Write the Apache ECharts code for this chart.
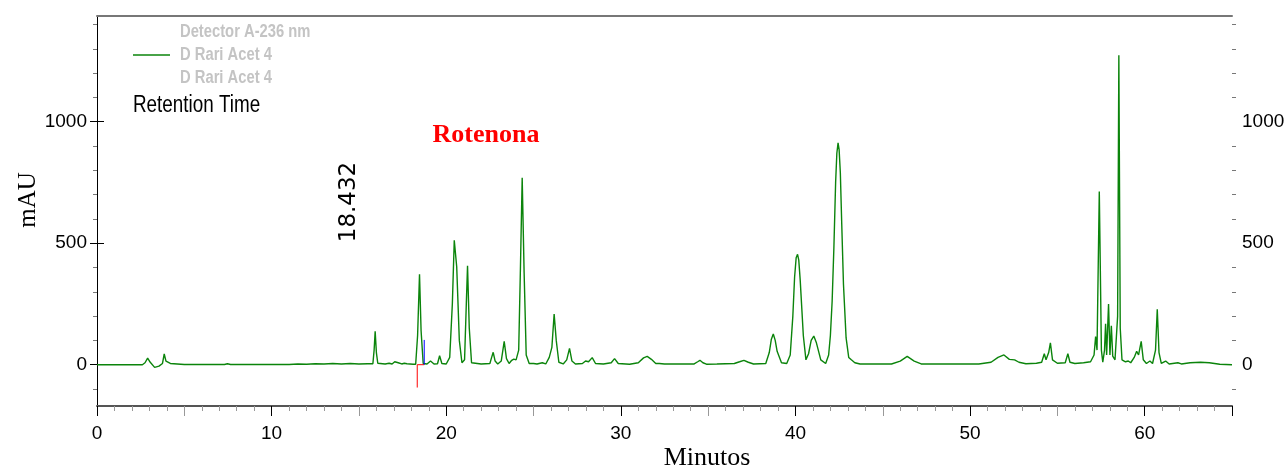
<!DOCTYPE html>
<html>
<head>
<meta charset="utf-8">
<script src="https://cdn.jsdelivr.net/npm/echarts@6/dist/echarts.min.js"></script>
<style>
  html, body { margin: 0; padding: 0; background: #fff; }
  #chart { width: 1284px; height: 468px; }
</style>
</head>
<body>
<div id="chart"></div>
<script>
// chromatogram trace, [minutes, mAU]
const traceEarly = [
    [0, 0], [2.6, 0], [2.75, 8], [2.9, 27], [3.05, 10], [3.3, -11], [3.55, -6], [3.75, 5],
    [3.85, 44], [3.95, 15], [4.2, 5], [5, 1], [7.3, 1], [7.47, 4], [7.65, 1], [11, 1],
    [11.5, 3], [12, 2], [12.5, 4], [13, 3], [13.5, 5], [14, 3], [14.5, 5], [15, 3],
    [15.5, 4], [15.8, 4], [15.87, 60], [15.93, 137], [16.0, 50], [16.08, 6], [16.5, 3],
    [16.73, 6], [16.9, 3], [17.05, 12], [17.15, 19], [17.25, 8], [17.45, 3], [17.6, 6],
    [17.75, 4], [18.1, 2], [18.25, 2], [18.36, 120], [18.47, 372], [18.56, 140], [18.68, 5]
];
const traceMid = [
    [18.9, 3], [19.1, 15], [19.3, 3], [19.5, 4], [19.62, 37], [19.75, 5], [20.0, 3],
    [20.2, 30], [20.35, 250], [20.46, 512], [20.6, 403], [20.75, 100], [20.9, 8],
    [21.05, 20], [21.15, 250], [21.22, 407], [21.32, 150], [21.45, 8], [22.0, 3],
    [22.5, 5], [22.6, 30], [22.69, 51], [22.8, 15], [22.95, 3], [23.15, 15], [23.32, 96],
    [23.45, 25], [23.6, 5], [23.75, 18], [23.87, 23], [24.0, 20], [24.15, 60], [24.25, 400],
    [24.35, 769], [24.46, 380], [24.58, 40], [24.75, 5], [25.0, 5], [25.2, 3], [25.5, 8],
    [25.7, 3], [25.9, 30], [26.05, 71], [26.18, 208], [26.3, 100], [26.45, 10], [26.7, 3],
    [26.9, 20], [27.06, 67], [27.2, 15], [27.4, 3], [27.8, 5], [27.98, 15], [28.15, 12],
    [28.36, 29], [28.55, 5], [29, 3], [29.45, 8], [29.64, 25], [29.85, 5], [30.5, 2]
];
const traceLate = [
    [31.0, 8], [31.3, 28], [31.51, 34], [31.75, 22], [32.0, 5], [32.2, 5], [32.31, 8],
    [32.5, 3], [34.2, 3], [34.4, 12], [34.53, 18], [34.7, 8], [34.9, 2], [35.5, 3],
    [36, 4], [36.5, 5], [36.8, 12], [37.05, 18], [37.3, 10], [37.6, 3], [38.3, 5],
    [38.5, 50], [38.62, 105], [38.73, 126], [38.84, 100], [38.95, 55], [39.2, 8], [39.5, 5],
    [39.7, 40], [39.85, 200], [39.95, 360], [40.04, 440], [40.12, 454], [40.19, 430],
    [40.27, 350], [40.45, 120], [40.6, 20], [40.75, 45], [40.9, 100], [41.05, 118],
    [41.2, 90], [41.45, 20], [41.73, 5], [41.9, 40], [42.0, 120], [42.1, 260], [42.2, 480],
    [42.3, 750], [42.37, 870], [42.44, 913], [42.5, 885], [42.57, 790], [42.65, 580],
    [42.75, 330], [42.9, 110], [43.05, 30], [43.2, 20], [43.4, 8], [43.7, 3], [45.5, 3],
    [46.0, 15], [46.4, 34], [46.8, 15], [47.2, 3], [50.5, 3], [51.2, 10], [51.6, 30],
    [51.94, 40], [52.25, 22], [52.55, 20], [52.8, 10], [53.2, 4], [53.8, 6], [54.1, 10],
    [54.25, 45], [54.35, 20], [54.5, 50], [54.6, 90], [54.72, 20], [55.0, 6], [55.45, 8],
    [55.6, 45], [55.72, 10], [56.0, 5], [56.5, 8], [56.9, 12], [57.1, 40], [57.19, 116],
    [57.27, 60], [57.4, 713], [57.52, 60], [57.6, 10], [57.7, 60], [57.76, 168], [57.82, 40],
    [57.93, 250], [58.01, 40], [58.09, 160], [58.17, 35], [58.3, 20], [58.45, 200],
    [58.52, 1273], [58.6, 150], [58.7, 20], [58.9, 12], [59.06, 15], [59.2, 8], [59.4, 30],
    [59.54, 55], [59.65, 40], [59.8, 96], [59.92, 20], [60.1, 5], [60.3, 15], [60.45, 5],
    [60.62, 60], [60.72, 228], [60.82, 50], [60.95, 5], [61.2, 15], [61.4, 3], [61.9, 8],
    [62.1, 3], [62.6, 8], [63.2, 10], [63.7, 8], [64.3, 2], [65, 0]
];

// integration marks around the 18.432 peak
const startMark = [[18.34, -94], [18.34, 0], [18.74, 0]];
const endMark = [[18.74, 0], [18.74, 102]];

const majorY = [0, 500, 1000];
const minorY = [-100, 100, 200, 300, 400, 600, 700, 800, 900, 1100, 1200, 1300, 1400];
const yMin = -170;
const yMax = 1435;

const labelFont = "'Liberation Sans', Arial, sans-serif";
const narrow = 0.82; // the source uses a condensed face

const chart = echarts.init(document.getElementById("chart"));

const yAxisBase = (position, withLabels) => ({
    type: "value",
    position: position,
    min: yMin,
    max: yMax,
    splitLine: { show: false },
    axisLine: { show: withLabels, lineStyle: { color: "#000", width: 1 } },
    axisTick: {
        show: true,
        length: withLabels ? 7 : 4,
        customValues: withLabels ? majorY : minorY,
        lineStyle: { color: withLabels ? "#000" : "#777" }
    },
    axisLabel: {
        show: withLabels,
        customValues: majorY,
        margin: 10,
        color: "#000",
        fontFamily: labelFont,
        fontSize: 19,
        formatter: v => String(v)
    }
});

const option = {
    animation: false,
    backgroundColor: "#fff",
    grid: { left: 97, right: 52, top: 16, bottom: 62, outerBoundsMode: "none", containLabel: false },
    xAxis: [
        {
            type: "value",
            min: 0,
            max: 65,
            interval: 5,
            splitLine: { show: false },
            axisLine: { onZero: false, lineStyle: { color: "#555", width: 2 } },
            axisTick: { length: 10, lineStyle: { color: "#999" } },
            minorTick: { show: true, splitNumber: 5, length: 5, lineStyle: { color: "#999" } },
            axisLabel: {
                margin: 18,
                color: "#000",
                fontFamily: labelFont,
                fontSize: 19,
                formatter: v => (v % 10 === 0 ? String(v) : "")
            }
        },
        {
            type: "value",
            position: "bottom",
            min: 0,
            max: 65,
            interval: 10,
            axisLine: { show: false, onZero: false },
            axisTick: { length: 10, lineStyle: { color: "#000" } },
            axisLabel: { show: false },
            splitLine: { show: false }
        },
        {
            type: "value",
            position: "top",
            min: 0,
            max: 65,
            axisLine: { show: true, onZero: false, lineStyle: { color: "#777", width: 2 } },
            axisTick: { show: false },
            axisLabel: { show: false },
            splitLine: { show: false }
        }
    ],
    yAxis: [
        yAxisBase("left", true),
        yAxisBase("left", false),
        yAxisBase("right", true),
        yAxisBase("right", false)
    ],
    series: [
        {
            name: "D Rari Acet 4",
            type: "line",
            data: traceEarly.concat(traceMid, traceLate),
            showSymbol: false,
            symbol: "none",
            lineStyle: { color: "#0b840b", width: 1.4 },
            z: 3
        },
        {
            type: "line",
            data: startMark,
            symbol: "none",
            lineStyle: { color: "#ff0000", width: 1 },
            z: 4
        },
        {
            type: "line",
            data: endMark,
            symbol: "none",
            lineStyle: { color: "#0000ff", width: 1 },
            z: 4
        }
    ],
    graphic: [
        {
            type: "text",
            x: 180,
            y: 32,
            scaleX: narrow,
            style: { text: "Detector A-236 nm", fill: "#c4c4c4", font: "bold 18px " + labelFont, verticalAlign: "middle" }
        },
        {
            type: "line",
            shape: { x1: 133, y1: 55, x2: 170, y2: 55 },
            style: { stroke: "#0b840b", lineWidth: 1.4 }
        },
        {
            type: "text",
            x: 180,
            y: 55,
            scaleX: narrow,
            style: { text: "D Rari Acet 4", fill: "#c4c4c4", font: "bold 18px " + labelFont, verticalAlign: "middle" }
        },
        {
            type: "text",
            x: 180,
            y: 78,
            scaleX: narrow,
            style: { text: "D Rari Acet 4", fill: "#c4c4c4", font: "bold 18px " + labelFont, verticalAlign: "middle" }
        },
        {
            type: "text",
            x: 133,
            y: 106,
            scaleX: narrow,
            style: { text: "Retention Time", fill: "#000", font: "23px " + labelFont, verticalAlign: "middle" }
        },
        {
            type: "text",
            x: 486,
            y: 135,
            style: {
                text: "Rotenona",
                fill: "#ff0000",
                font: "bold 26px 'Liberation Serif', 'Times New Roman', serif",
                align: "center",
                verticalAlign: "middle"
            }
        },
        {
            type: "text",
            x: 349,
            y: 202,
            rotation: Math.PI / 2,
            style: {
                text: "18.432",
                fill: "#000",
                font: "23px 'DejaVu Sans', sans-serif",
                align: "center",
                verticalAlign: "middle"
            }
        },
        {
            type: "text",
            x: 28,
            y: 200,
            rotation: Math.PI / 2,
            style: {
                text: "mAU",
                fill: "#000",
                font: "25px 'Liberation Serif', 'Times New Roman', serif",
                align: "center",
                verticalAlign: "middle"
            }
        },
        {
            type: "text",
            x: 707,
            y: 458,
            style: {
                text: "Minutos",
                fill: "#000",
                font: "26px 'Liberation Serif', 'Times New Roman', serif",
                align: "center",
                verticalAlign: "middle"
            }
        }
    ]
};

chart.setOption(option);
</script>
</body>
</html>
